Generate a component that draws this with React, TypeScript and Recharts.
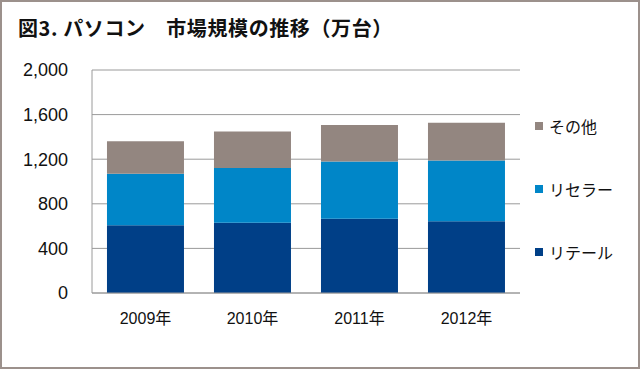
import React from 'react';
import { BarChart, Bar, XAxis, YAxis, CartesianGrid } from 'recharts';

const years = ['2009年', '2010年', '2011年', '2012年'];
const retail = [607, 631, 667, 643];
const reseller = [462, 491, 512, 545];
const others = [291, 327, 327, 339];
const yTicks = [0, 400, 800, 1200, 1600, 2000];

const series = [
  { key: 'retail', name: 'リテール', color: '#003f87' },
  { key: 'reseller', name: 'リセラー', color: '#0086c8' },
  { key: 'others', name: 'その他', color: '#938680' },
];

const data = years.map((year, i) => ({
  year,
  retail: retail[i],
  reseller: reseller[i],
  others: others[i],
}));

const font = '"Liberation Sans", Arial, "Noto Sans CJK JP", sans-serif';

const LegendBox = () => (
  <div style={{ position: 'absolute', left: 533, top: 92, fontFamily: font, fontSize: 16, color: '#111' }}>
    {[...series].reverse().map((s) => (
      <div key={s.key} style={{ display: 'flex', alignItems: 'center', height: 63 }}>
        <span style={{ width: 8, height: 8, background: s.color, marginRight: 6, display: 'inline-block' }} />
        <span>{s.name}</span>
      </div>
    ))}
  </div>
);

export default function App() {
  return (
    <div
      style={{
        position: 'absolute',
        left: 0,
        top: 0,
        width: 640,
        height: 369,
        boxSizing: 'border-box',
        border: '2px solid #9c918c',
        background: '#fff',
      }}
    >
      <div
        style={{
          position: 'absolute',
          left: 16,
          top: 13,
          fontFamily: '"Noto Sans CJK JP", sans-serif',
          fontWeight: 700,
          fontSize: 20,
          letterSpacing: 0.6,
          color: '#111',
          lineHeight: '26px',
          whiteSpace: 'pre',
        }}
      >
        図3. パソコン　市場規模の推移（万台）
      </div>
      <div style={{ position: 'absolute', left: -2, top: -2 }}>
        <BarChart
          width={640}
          height={369}
          data={data}
          margin={{ top: 70, right: 120, bottom: 46, left: 0 }}
          barCategoryGap="14%"
        >
          <CartesianGrid vertical={false} stroke="#9a9a9a" />
          <XAxis
            dataKey="year"
            height={30}
            tickLine={false}
            axisLine={{ stroke: '#9a9a9a' }}
            tickMargin={14}
            tick={{ fontSize: 16, fill: '#111', fontFamily: font }}
          />
          <YAxis
            width={92}
            domain={[0, 2000]}
            ticks={yTicks}
            tickFormatter={(v: number) => v.toLocaleString('en-US')}
            tickSize={0}
            tickMargin={24}
            axisLine={{ stroke: '#9a9a9a' }}
            tick={{ fontSize: 18, fill: '#111', fontFamily: font }}
          />
          <YAxis
            yAxisId="right"
            orientation="right"
            width={0}
            domain={[0, 2000]}
            tick={false}
            tickLine={false}
            axisLine={{ stroke: '#9a9a9a' }}
          />
          {series.map((s) => (
            <Bar
              key={s.key}
              dataKey={s.key}
              name={s.name}
              stackId="a"
              fill={s.color}
              isAnimationActive={false}
            />
          ))}
        </BarChart>
      </div>
      <LegendBox />
    </div>
  );
}
